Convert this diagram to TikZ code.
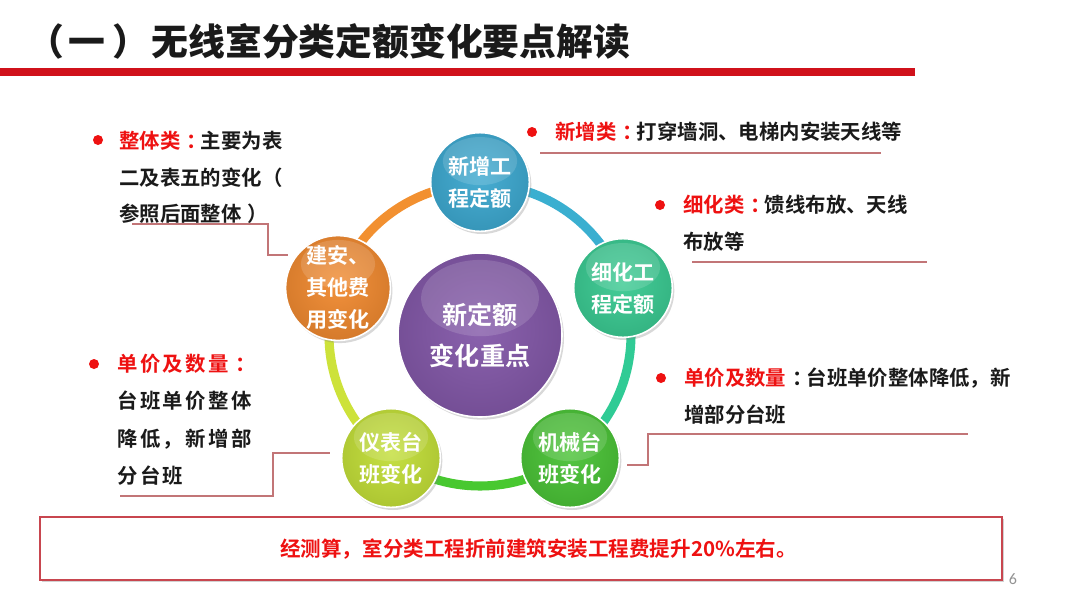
\documentclass[tikz,border=0pt]{standalone}
\usepackage{fontspec}
\setmainfont{Noto Sans CJK SC}[BoldFont={Noto Sans CJK SC Bold}]
\newfontfamily\titlefont{Noto Sans CJK SC Black}
\newfontfamily\numfont{Carlito}
\usetikzlibrary{shadows}
\definecolor{c1}{HTML}{2FA2CC}
\definecolor{c2}{HTML}{2CC68A}
\definecolor{c3}{HTML}{3DBE28}
\definecolor{c4}{HTML}{BEDC2A}
\definecolor{c5}{HTML}{F08222}
\definecolor{cc}{HTML}{7A4CA2}
\definecolor{r1}{HTML}{3AAFD0}
\definecolor{r2}{HTML}{30CB95}
\definecolor{r3}{HTML}{48C830}
\definecolor{r4}{HTML}{CDE23A}
\definecolor{r5}{HTML}{F29030}
\definecolor{titlered}{HTML}{D0111B}
\definecolor{txtred}{HTML}{EE1111}
\definecolor{txtblack}{HTML}{1A1A1A}
\definecolor{linec}{HTML}{C27577}
\definecolor{boxred}{HTML}{C8464F}
\newcommand{\ccolon}{\kern0.3em：\kern-0.3em}
\tikzset{
  ball/.style n args={2}{circle, inner sep=0pt, fill=#1, draw=white, line width=1.2pt,
    text=white, align=center,
    drop shadow={shadow xshift=1.5pt, shadow yshift=-2pt, opacity=0.3},
    path picture={
      \shade[inner color=#1!88!white, outer color=#1!78!black]
        ([yshift=4pt]path picture bounding box.center) circle[radius=#2];
      \fill[white, opacity=0.14] ([yshift=-0.26*#2]path picture bounding box.north) ellipse[x radius=0.34*#2, y radius=0.22*#2];
    }},
  smallball/.style={ball={#1}{82pt}, minimum size=74pt, font=\fontsize{15.8}{24}\selectfont\bfseries},
  body/.style={anchor=north west, inner sep=0pt, align=left, text=txtblack,
    font=\fontsize{15.3}{27.5}\selectfont\bfseries},
  bullet/.style={circle, fill=txtred, inner sep=0pt, minimum size=7.5pt},
  conn/.style={draw=linec, line width=1.5pt},
}
\begin{document}
\begin{tikzpicture}[x=0.75pt, y=-0.75pt]
\useasboundingbox (0,0) rectangle (1080,607);
\fill[white] (0,0) rectangle (1080,607);

% title
\node[anchor=west, inner sep=0pt, text=txtblack, font=\titlefont\fontsize{27.6}{30}\selectfont]
  (title) at (27,41) {（\kern3pt 一\kern6pt ）\kern1.5pt 无线室分类定额变化要点解读};
\fill[titlered] (0,68) rectangle (915,76);

% ring
\coordinate (c) at (480,335);
\foreach \a/\b/\col in {-90/-18/r1, -18/54/r2, 54/126/r3, 126/198/r4, 198/270/r5}{
  \draw[white, line width=10pt] (c) ++(\a:151) arc[start angle=\a, end angle=\b, radius=151];
  \draw[\col, line width=6.8pt] (c) ++(\a:151) arc[start angle=\a, end angle=\b, radius=151];
}

% balls
\node[smallball=c1] (n1) at (480,182) {新增工\\程定额};
\node[smallball=c2] (n2) at (623,288) {细化工\\程定额};
\node[smallball=c3] (n3) at (570,458) {机械台\\班变化};
\node[smallball=c4] (n4) at (391,458) {仪表台\\班变化};
\node[smallball=c5] (n5) at (338,288) {建安、\\其他费\\用变化};
\node[ball={cc}{130pt}, minimum size=123pt, font=\fontsize{18.8}{30.8}\selectfont\bfseries]
  (nc) at (480,335) {新定额\\变化重点};

% annotations
\node[bullet] (b1) at (98,140) {};
\node[body] (t1) at (119,131) {\textcolor{txtred}{整体类\ccolon}主要为表\\二及表五的变化（\\参照后面整体\kern0.3em）};

\node[bullet] (b2) at (532,132) {};
\node[body] (t2) at (555,122) {\textcolor{txtred}{新增类\ccolon}打穿墙洞、电梯内安装天线等};

\node[bullet] (b3) at (660,205) {};
\node[body] (t3) at (683,195) {\textcolor{txtred}{细化类\ccolon}馈线布放、天线\\布放等};

\node[bullet] (b4) at (94,364) {};
\node[body, font=\fontsize{15.3}{28}\selectfont\bfseries\addfontfeature{LetterSpace=12}]
  (t4) at (117,354) {\textcolor{txtred}{单价及数量\ccolon}\\台班单价整体\\降低，新增部\\分台班};

\node[bullet] (b5) at (661,378) {};
\node[body] (t5) at (684,368) {\textcolor{txtred}{单价及数量}\ccolon 台班单价整体降低，新\\增部分台班};

% connectors
\coordinate (a1) at (132,224);
\coordinate (e1) at (288,255);
\draw[conn] (a1) -- (268,224) |- (e1);
\coordinate (a2) at (540,153);
\coordinate (e2) at (881,153);
\draw[conn] (a2) -- (e2);
\coordinate (a3) at (692,262);
\coordinate (e3) at (927,262);
\draw[conn] (a3) -- (e3);
\coordinate (a4) at (120,496);
\coordinate (e4) at (330,453);
\draw[conn] (a4) -- (273,496) |- (e4);
\coordinate (a5) at (627,465);
\coordinate (e5) at (968,434);
\draw[conn] (a5) -- (648,465) |- (e5);

% bottom box
\node[draw=boxred, fill=white, line width=1.3pt, minimum width=721.5pt, minimum height=47.25pt,
  drop shadow={shadow xshift=1.5pt, shadow yshift=-1.5pt, opacity=0.35}] (box) at (521,548.5) {};
\node[text=txtred, inner sep=0pt, font=\fontsize{15.4}{18}\selectfont\bfseries]
  (btxt) at (538.5,549) {经测算，室分类工程折前建筑安装工程费提升20\%左右。};
\node[text=gray!85, inner sep=0pt, font=\numfont\fontsize{12}{14}\selectfont] (pg) at (1013,579) {6};
\end{tikzpicture}
\end{document}
